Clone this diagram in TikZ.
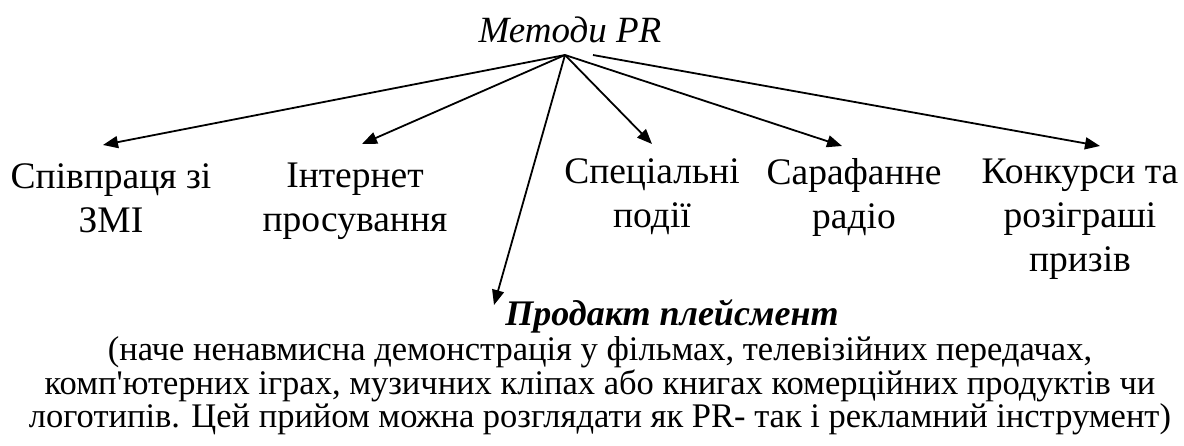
\documentclass[tikz,border=0pt]{standalone}
\usepackage{fontspec}
\setmainfont{Liberation Serif}
\usetikzlibrary{arrows.meta}
\begin{document}
\begin{tikzpicture}[x=1pt,y=-1pt,
  lbl/.style={align=center,font=\fontsize{37.5}{44}\selectfont,inner sep=0pt},
  arr/.style={line width=1.8pt,-{Triangle[length=15pt,width=12pt]}}]
\useasboundingbox (0,0) rectangle (1184,445);
\node[lbl,font=\fontsize{37}{44}\selectfont\itshape] (title) at (570,29.5) {Методи PR};
\coordinate (hub) at (565,55);
\coordinate (hub2) at (593,55);
\coordinate (t1) at (103,145);
\coordinate (t2) at (362,144);
\coordinate (t3) at (494,305);
\coordinate (t4) at (652,144);
\coordinate (t5) at (842,146);
\coordinate (t6) at (1100,146);
\node[lbl] (smi) at (111,197.8) {Співпраця зі\\ЗМІ};
\node[lbl] (inet) at (355,201.7) {Інтернет\\просування};
\node[lbl] (spec) at (652,197) {Спеціальні\\події};
\node[lbl] (saraf) at (854,197.4) {Сарафанне\\радіо};
\node[lbl] (konk) at (1080,219.4) {Конкурси та\\розіграші\\призів};
\node[lbl,font=\fontsize{36}{44}\selectfont\bfseries\itshape] (prod) at (672,316) {Продакт плейсмент};
\node[lbl,font=\fontsize{34.5}{33.5}\selectfont] (desc) at (600,386) {(наче ненавмисна демонстрація у фільмах, телевізійних передачах,\\комп\textquotesingle ютерних іграх, музичних кліпах або книгах комерційних продуктів чи\\логотипів. Цей прийом можна розглядати як PR- так і рекламний інструмент)};
\draw[arr] (hub) -- (t1);
\draw[arr] (hub) -- (t2);
\draw[arr] (hub) -- (t3);
\draw[arr] (hub) -- (t4);
\draw[arr] (hub) -- (t5);
\draw[arr] (hub2) -- (t6);
\end{tikzpicture}
\end{document}
